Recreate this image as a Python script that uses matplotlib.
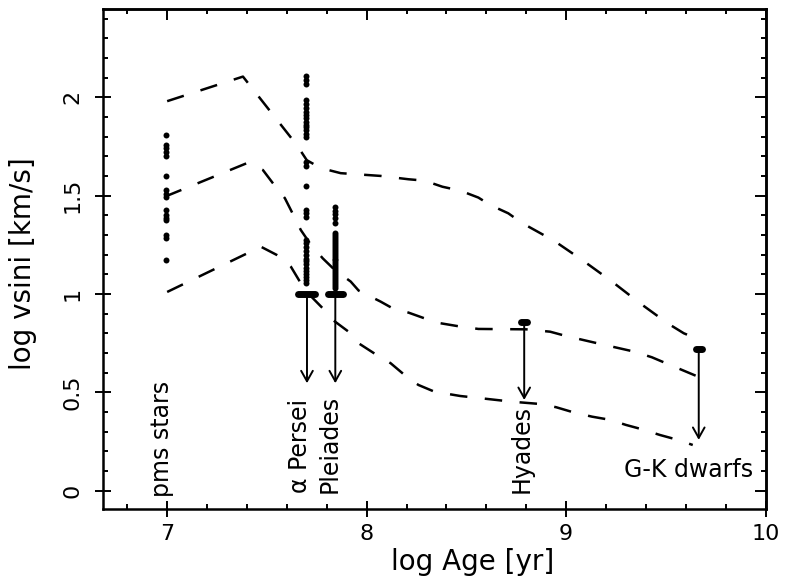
import matplotlib
matplotlib.use("Agg")
import matplotlib.pyplot as plt
from matplotlib.ticker import MultipleLocator, FormatStrFormatter

plt.rcParams["font.family"] = "DejaVu Sans"

# dashed envelope curves (log Age, log vsini)
upper_x = [7.00, 7.38, 7.65, 7.70, 7.77, 7.87, 8.07, 8.21, 8.29, 8.38, 8.47, 8.56,
           8.62, 8.71, 8.78, 8.94, 9.08, 9.23, 9.37, 9.51, 9.59, 9.67]
upper_y = [1.98, 2.105, 1.757, 1.68, 1.64, 1.614, 1.60, 1.583, 1.576, 1.545, 1.525, 1.49,
           1.452, 1.41, 1.36, 1.27, 1.173, 1.063, 0.953, 0.85, 0.80, 0.766]

middle_x = [6.99, 7.40, 7.48, 7.53, 7.59, 7.62, 7.67, 7.715, 7.78, 7.84, 7.92, 7.96,
            8.07, 8.13, 8.21, 8.29, 8.37, 8.47, 8.56, 8.80, 8.92, 9.00, 9.17, 9.34,
            9.43, 9.50, 9.66]
middle_y = [1.495, 1.665, 1.63, 1.563, 1.487, 1.427, 1.325, 1.258, 1.181, 1.122, 1.063, 1.017,
            0.961, 0.927, 0.905, 0.876, 0.851, 0.834, 0.822, 0.82, 0.808, 0.786, 0.746, 0.707,
            0.678, 0.648, 0.58]

lower_x = [7.00, 7.47, 7.55, 7.59, 7.62, 7.665, 7.69, 7.78, 7.83, 7.92, 7.96, 8.05,
           8.12, 8.21, 8.26, 8.34, 8.47, 8.57, 8.73, 8.875, 8.95, 9.04, 9.13, 9.22,
           9.30, 9.38, 9.47, 9.56, 9.635]
lower_y = [1.01, 1.24, 1.198, 1.173, 1.139, 1.063, 1.02, 0.927, 0.868, 0.80, 0.749, 0.69,
           0.648, 0.571, 0.537, 0.503, 0.481, 0.47, 0.452, 0.44, 0.424, 0.397, 0.376, 0.36,
           0.334, 0.312, 0.283, 0.258, 0.232]

# measured log vsini values per cluster
pms_age = 6.995
pms_v = [1.808, 1.758, 1.741, 1.724, 1.699, 1.598, 1.530, 1.510, 1.493, 1.429,
         1.403, 1.386, 1.378, 1.302, 1.285, 1.175]

aper_age = 7.695
aper_v = [2.108, 2.088, 2.068, 1.987, 1.966, 1.944, 1.927, 1.910, 1.893, 1.876,
          1.860, 1.847, 1.834, 1.814, 1.80, 1.673, 1.651, 1.549, 1.427, 1.409,
          1.389, 1.274, 1.257, 1.24, 1.22, 1.20, 1.18, 1.165, 1.15, 1.13,
          1.115, 1.10, 1.085, 1.07, 1.055]

plei_age = 7.842
plei_v = [1.444, 1.424, 1.404, 1.386, 1.362, 1.31, 1.30, 1.29, 1.28, 1.27,
          1.26, 1.25, 1.24, 1.23, 1.22, 1.21, 1.20, 1.19, 1.18, 1.17,
          1.16, 1.15, 1.14, 1.13, 1.12, 1.11, 1.10, 1.09, 1.08, 1.07,
          1.06, 1.05, 1.04, 1.03]

# upper limits: bar extent, bar level, arrow position and arrow tip
lim_names = ["aper", "plei", "hyades", "gk"]
lim_x0 = [7.655, 7.805, 8.775, 9.65]
lim_x1 = [7.74, 7.88, 8.806, 9.68]
lim_level = [1.0, 1.0, 0.859, 0.719]
lim_arrow_x = [7.701, 7.843, 8.79, 9.665]
lim_tip = [0.546, 0.546, 0.461, 0.258]

# group labels
lab_text = ["pms stars", "α Persei", "Pleiades", "Hyades"]
lab_x = [6.975, 7.665, 7.815, 8.775]
lab_y = [-0.035, -0.01, -0.012, -0.01]

fig = plt.figure(figsize=(7.86, 5.76), dpi=100)
ax = fig.add_axes([0.1307, 0.1158, 0.8433, 0.8680])

dash = (0, (7, 7))
for xs, ys in [(upper_x, upper_y), (middle_x, middle_y), (lower_x, lower_y)]:
    ax.plot(xs, ys, color="k", lw=1.8, linestyle=dash, dash_capstyle="butt")

ms = 4.3
ax.plot([pms_age] * len(pms_v), pms_v, "o", color="k", ms=ms, mec="none")
ax.plot([aper_age] * len(aper_v), aper_v, "o", color="k", ms=ms, mec="none")
ax.plot([plei_age] * len(plei_v), plei_v, "o", color="k", ms=ms, mec="none")

for i in range(len(lim_names)):
    ax.plot([lim_x0[i], lim_x1[i]], [lim_level[i], lim_level[i]], color="k",
            lw=5, solid_capstyle="round")
    ax.annotate("", xy=(lim_arrow_x[i], lim_tip[i]),
                xytext=(lim_arrow_x[i], lim_level[i]),
                arrowprops=dict(arrowstyle="->, head_length=0.75, head_width=0.42",
                                lw=1.4, color="k", shrinkA=0, shrinkB=0,
                                mutation_scale=10))

for t, x, y in zip(lab_text, lab_x, lab_y):
    ax.text(x, y, t, rotation=90, ha="center", va="bottom", fontsize=17)
ax.text(9.615, 0.105, "G-K dwarfs", ha="center", va="center", fontsize=17)

ax.set_xlim(6.677, 10.0)
ax.set_ylim(-0.095, 2.447)

ax.set_xticks([7, 8, 9, 10])
ax.set_yticks([0, 0.5, 1, 1.5, 2])
ax.xaxis.set_minor_locator(MultipleLocator(0.2))
ax.yaxis.set_minor_locator(MultipleLocator(0.1))
ax.yaxis.set_major_formatter(FormatStrFormatter("%g"))
ax.tick_params(which="major", direction="inout", length=11.5, width=1.4,
               labelsize=16)
ax.tick_params(which="minor", direction="in", length=3.6, width=1.4)
ax.tick_params(axis="x", which="major", pad=5)
ax.tick_params(axis="y", which="major", pad=9)
for lbl in ax.get_yticklabels():
    lbl.set_rotation(90)
    lbl.set_va("center")

for s in ax.spines.values():
    s.set_linewidth(1.8)

# inward ticks on the top and right edges
secx = ax.secondary_xaxis("top")
secx.set_xticks([7, 8, 9, 10])
secx.xaxis.set_minor_locator(MultipleLocator(0.2))
secx.tick_params(which="major", direction="in", length=7.7, width=1.4, labeltop=False)
secx.tick_params(which="minor", direction="in", length=3.4, width=1.4)
secy = ax.secondary_yaxis("right")
secy.set_yticks([0, 0.5, 1, 1.5, 2])
secy.yaxis.set_minor_locator(MultipleLocator(0.1))
secy.tick_params(which="major", direction="in", length=7.7, width=1.4, labelright=False)
secy.tick_params(which="minor", direction="in", length=3.4, width=1.4)
for sa in (secx, secy):
    for s in sa.spines.values():
        s.set_linewidth(1.8)

ax.set_xlabel("log Age [yr]", fontsize=20)
ax.xaxis.set_label_coords(0.558, -0.077)
ax.set_ylabel("log vsini [km/s]", fontsize=20)
ax.yaxis.set_label_coords(-0.099, 0.492)

fig.savefig("out.png", dpi=100)
